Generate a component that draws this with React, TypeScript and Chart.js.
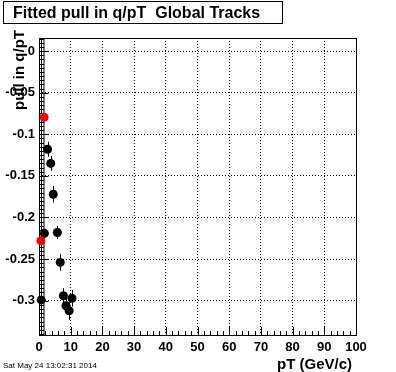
import React, { useEffect, useRef } from "react";
import { Chart, registerables } from "chart.js";

Chart.register(...registerables);

const TITLE = "Fitted pull in q/pT  Global Tracks";
const X_TITLE = "pT (GeV/c)";
const Y_TITLE = "pull in q/pT";
const DATE_TEXT = "Sat May 24 13:02:31 2014";

const blackPt = [0.7, 1.7, 2.7, 3.7, 4.5, 5.8, 6.7, 7.7, 8.5, 9.5, 10.4];
const blackPull = [-0.299, -0.219, -0.118, -0.135, -0.172, -0.218, -0.254, -0.294, -0.306, -0.312, -0.297];
const blackErr = [0.004, 0.004, 0.009, 0.009, 0.01, 0.008, 0.01, 0.009, 0.009, 0.011, 0.01];

const redPt = [1.6, 0.6];
const redPull = [-0.0796, -0.228];

const yTickValues = [-0.3, -0.25, -0.2, -0.15, -0.1, -0.05, 0];
const X_MIN = 0;
const X_MAX = 100;
const Y_MIN = -0.3412;
const Y_MAX = 0.0157;

const FONT = "'Liberation Sans', Arial, Helvetica, sans-serif";

const decorPlugin = {
  id: "decor",
  beforeDatasetsDraw(chart: any) {
    const ctx = chart.ctx;
    const a = chart.chartArea;
    const xs = chart.scales.x;
    const ys = chart.scales.y;
    ctx.save();
    ctx.strokeStyle = "#000";
    ctx.lineWidth = 1;
    // frame
    ctx.strokeRect(Math.round(a.left) + 0.5, Math.round(a.top) + 0.5, Math.round(a.right - a.left), Math.round(a.bottom - a.top));
    // x ticks
    for (let v = X_MIN; v <= X_MAX + 1e-9; v += 2) {
      const px = Math.round(xs.getPixelForValue(v)) + 0.5;
      const major = Math.abs(v / 10 - Math.round(v / 10)) < 1e-6;
      const len = major ? 8 : 4;
      ctx.beginPath();
      ctx.moveTo(px, a.bottom);
      ctx.lineTo(px, a.bottom - len);
      ctx.stroke();
    }
    // y ticks (dense ladder)
    const left = Math.round(a.left) + 0.5;
    for (let k = Math.ceil(Y_MIN / 0.005); k * 0.005 <= Y_MAX; k++) {
      const v = k * 0.005;
      const py = Math.round(ys.getPixelForValue(v)) + 0.5;
      const major = k % 10 === 0;
      ctx.beginPath();
      ctx.moveTo(left, py);
      ctx.lineTo(left + (major ? 9 : 4.5), py);
      ctx.stroke();
    }
    ctx.beginPath();
    ctx.moveTo(left + 2, a.top);
    ctx.lineTo(left + 2, a.bottom);
    ctx.moveTo(left + 4.5, a.top);
    ctx.lineTo(left + 4.5, a.bottom);
    ctx.stroke();

    // error bars
    chart.data.datasets.forEach((ds: any) => {
      if (!ds.errors) return;
      ds.data.forEach((p: any, i: number) => {
        const e = ds.errors[i];
        const px = Math.round(xs.getPixelForValue(p.x)) + 0.5;
        const y1 = ys.getPixelForValue(p.y + e);
        const y2 = ys.getPixelForValue(p.y - e);
        ctx.beginPath();
        ctx.moveTo(px, y1);
        ctx.lineTo(px, y2);
        ctx.stroke();
      });
    });
    ctx.restore();
  },
  afterDraw(chart: any) {
    const ctx = chart.ctx;
    ctx.save();
    ctx.strokeStyle = "#000";
    ctx.lineWidth = 1;

    // title box
    ctx.strokeRect(3.5, 1.5, 279, 22);
    ctx.fillStyle = "#000";
    ctx.font = "bold 16px " + FONT;
    ctx.textAlign = "left";
    ctx.textBaseline = "alphabetic";
    ctx.fillText(TITLE, 13, 18);

    // x title
    ctx.font = "bold 15px " + FONT;
    ctx.textAlign = "right";
    ctx.fillText(X_TITLE, 352, 369);

    // y title
    ctx.save();
    ctx.translate(24, 30);
    ctx.rotate(-Math.PI / 2);
    ctx.font = "bold 15px " + FONT;
    ctx.textAlign = "right";
    ctx.fillText(Y_TITLE, 0, 0);
    ctx.restore();

    // date
    ctx.font = "8px " + FONT;
    ctx.textAlign = "left";
    ctx.fillText(DATE_TEXT, 3, 368);
    ctx.restore();
  },
};

export default function App() {
  const ref = useRef<HTMLCanvasElement>(null);
  useEffect(() => {
    if (!ref.current) return;
    Chart.defaults.font.family = FONT;
    const tickFont = { family: FONT, size: 13, weight: "bold" as const };
    const chart = new Chart(ref.current, {
      type: "scatter",
      data: {
        datasets: [
          {
            label: "red",
            data: redPt.map((x, i) => ({ x, y: redPull[i] })),
            backgroundColor: "#ff0000",
            borderWidth: 0,
            pointRadius: 4.5,
            clip: false,
          } as any,
          {
            label: "global",
            data: blackPt.map((x, i) => ({ x, y: blackPull[i] })),
            errors: blackErr,
            backgroundColor: "#000",
            borderWidth: 0,
            pointRadius: 4.5,
            clip: false,
          } as any,
        ],
      },
      options: {
        animation: false,
        responsive: false,
        events: [],
        layout: { padding: { top: 38, right: 40, left: 0, bottom: 0 } },
        plugins: { legend: { display: false }, title: { display: false }, tooltip: { enabled: false } },
        scales: {
          x: {
            type: "linear",
            min: X_MIN,
            max: X_MAX,
            afterFit: (s: any) => {
              s.height = 37;
            },
            ticks: {
              stepSize: 10,
              color: "#000",
              font: () => tickFont,
              padding: 5,
              maxRotation: 0,
            },
            grid: { color: "#000", lineWidth: 1, drawTicks: false },
            border: { display: false, dash: [1, 2] },
          },
          y: {
            type: "linear",
            min: Y_MIN,
            max: Y_MAX,
            afterFit: (s: any) => {
              s.width = 39;
            },
            afterBuildTicks: (s: any) => {
              s.ticks = yTickValues.map((v) => ({ value: v }));
            },
            ticks: {
              color: "#000",
              font: () => tickFont,
              padding: 4,
              callback: (v: any) => (Math.abs(v) < 1e-9 ? "0" : String(+Number(v).toFixed(2))),
            },
            grid: { color: "#000", lineWidth: 1, drawTicks: false },
            border: { display: false, dash: [1, 2] },
          },
        },
      } as any,
      plugins: [decorPlugin],
    });
    return () => chart.destroy();
  }, []);
  return (
    <div style={{ position: "absolute", left: 0, top: 0, width: 396, height: 372, background: "#fff" }}>
      <canvas ref={ref} width={396} height={372} style={{ display: "block", width: 396, height: 372 }} />
    </div>
  );
}
